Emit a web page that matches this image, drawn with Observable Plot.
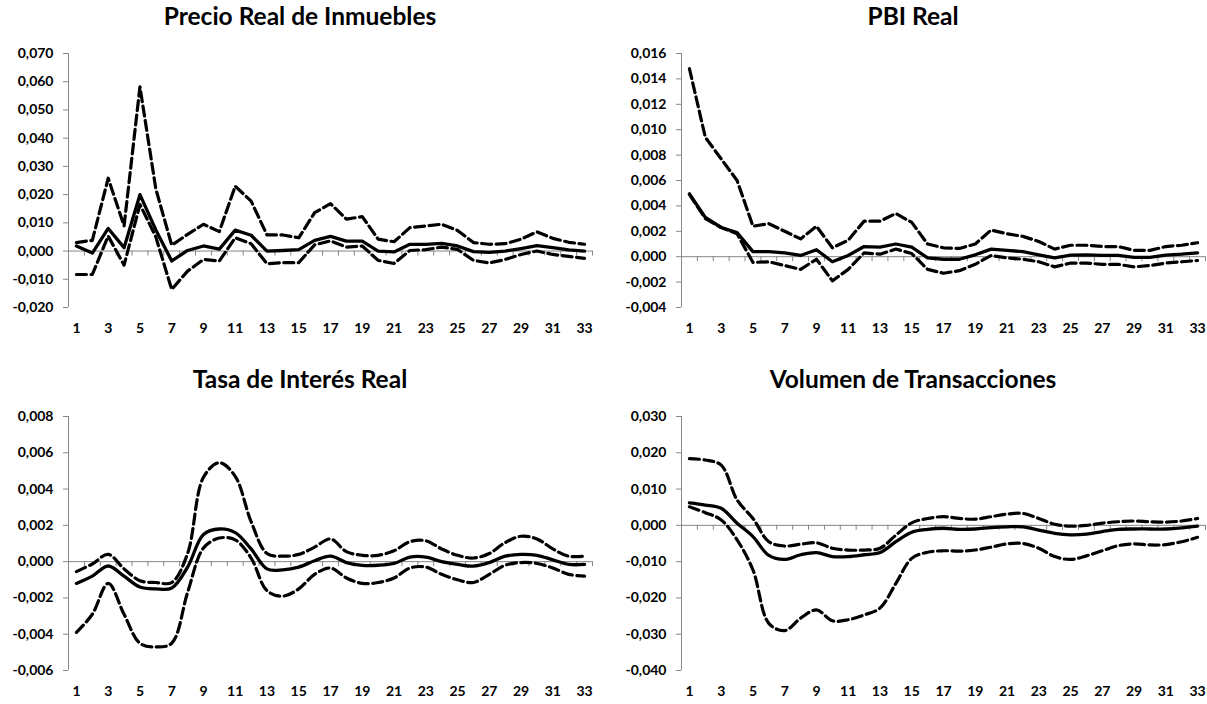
<!DOCTYPE html>
<html><head><meta charset="utf-8">
<script src="https://cdn.jsdelivr.net/npm/d3@7"></script>
<script src="https://cdn.jsdelivr.net/npm/@observablehq/plot@0.6"></script>
<style>
html,body{margin:0;padding:0;background:#fff;overflow:hidden}
#root{position:relative;width:1207px;height:704px;overflow:hidden}
.panel{position:absolute;width:600px;height:345px}
.title{position:absolute;left:0;top:4px;width:600px;text-align:center;font:bold 24.5px/24px Lato, sans-serif;color:#000;white-space:nowrap}
.panel svg{position:absolute;left:0;top:30px}
</style></head><body><div id="root"></div>
<script>
const periods = [1,2,3,4,5,6,7,8,9,10,11,12,13,14,15,16,17,18,19,20,21,22,23,24,25,26,27,28,29,30,31,32,33];
const xTickLabels = [1,3,5,7,9,11,13,15,17,19,21,23,25,27,29,31,33];

// Precio Real de Inmuebles
const precioMid = [0.0018,-0.0007,0.0080,0.0012,0.0200,0.0075,-0.0035,0.0002,0.0018,0.0007,0.0074,0.0056,0.0000,0.0002,0.0005,0.0038,0.0052,0.0035,0.0035,0.0000,-0.0003,0.0024,0.0024,0.0027,0.0018,-0.0002,-0.0005,0.0000,0.0009,0.0019,0.0012,0.0004,0.0000];
const precioUp = [0.0030,0.0038,0.0258,0.0089,0.0582,0.0220,0.0021,0.0059,0.0095,0.0069,0.0230,0.0177,0.0057,0.0057,0.0047,0.0136,0.0168,0.0113,0.0122,0.0042,0.0033,0.0083,0.0089,0.0095,0.0073,0.0030,0.0024,0.0026,0.0042,0.0068,0.0045,0.0031,0.0024];
const precioLow = [-0.0083,-0.0083,0.0053,-0.0050,0.0165,0.0050,-0.0136,-0.0071,-0.0030,-0.0035,0.0047,0.0026,-0.0045,-0.0041,-0.0041,0.0022,0.0036,0.0014,0.0018,-0.0033,-0.0044,0.0002,0.0005,0.0014,0.0006,-0.0033,-0.0042,-0.0030,-0.0012,0.0000,-0.0012,-0.0019,-0.0026];
const precioTicks = [-0.02,-0.01,0,0.01,0.02,0.03,0.04,0.05,0.06,0.07];

// PBI Real
const pbiMid = [0.00495,0.0031,0.0023,0.0019,0.0004,0.0004,0.0003,0.0001,0.00055,-0.0004,0.0001,0.0008,0.00075,0.0010,0.00075,-0.0001,-0.0002,-0.0002,0.00015,0.0006,0.0005,0.0004,0.00015,-0.0001,0.00013,0.00015,0.0001,0.0001,-0.00005,-0.00005,0.00013,0.0002,0.0003];
const pbiUp = [0.0148,0.0094,0.0077,0.0060,0.0024,0.0026,0.0020,0.0014,0.0024,0.0007,0.0013,0.0028,0.0028,0.0034,0.0027,0.0010,0.0007,0.00065,0.0010,0.0021,0.0018,0.0016,0.0012,0.0006,0.0009,0.0009,0.0008,0.0008,0.0005,0.0005,0.0008,0.0009,0.0011];
const pbiLow = [0.0049,0.0030,0.0023,0.0018,-0.00045,-0.0004,-0.0007,-0.0010,-0.0002,-0.0019,-0.0010,0.0003,0.0002,0.0006,0.00025,-0.0010,-0.0013,-0.0011,-0.0006,0.0001,-0.0001,-0.0002,-0.0004,-0.0008,-0.0005,-0.0005,-0.0006,-0.0006,-0.0008,-0.0007,-0.0005,-0.0004,-0.0003];
const pbiTicks = [-0.004,-0.002,0,0.002,0.004,0.006,0.008,0.010,0.012,0.014,0.016];

// Tasa de Interés Real
const tasaMid = [-0.0012,-0.0008,-0.00024,-0.0008,-0.0014,-0.0015,-0.00145,-0.0003,0.0015,0.0018,0.0016,0.0007,-0.0004,-0.00045,-0.0003,0.00005,0.0003,-0.00005,-0.0002,-0.0002,-0.0001,0.00025,0.00025,0.0000,-0.00015,-0.00025,-0.00005,0.0003,0.0004,0.00035,0.0001,-0.00015,-0.00015];
const tasaUp = [-0.00055,-0.00013,0.0004,-0.0004,-0.00105,-0.00115,-0.00115,0.00045,0.00465,0.00545,0.0047,0.0022,0.00045,0.0003,0.0004,0.0008,0.00125,0.00055,0.00035,0.00035,0.0006,0.0011,0.00115,0.0007,0.00035,0.0002,0.00045,0.00105,0.0014,0.00125,0.0007,0.0003,0.0003];
const tasaLow = [-0.0039,-0.0029,-0.0012,-0.0029,-0.0045,-0.0047,-0.0045,-0.0017,0.00075,0.0013,0.0012,0.0002,-0.0016,-0.0019,-0.0015,-0.0007,-0.00035,-0.0009,-0.0012,-0.00115,-0.0009,-0.00035,-0.0003,-0.0007,-0.0010,-0.00115,-0.0007,-0.0002,-0.00005,-0.0001,-0.00035,-0.0007,-0.0008];
const tasaTicks = [-0.006,-0.004,-0.002,0,0.002,0.004,0.006,0.008];

// Volumen de Transacciones
const volMid = [0.0062,0.0056,0.0047,0.0006,-0.0031,-0.0083,-0.0094,-0.0081,-0.0075,-0.0086,-0.0086,-0.0081,-0.0075,-0.0045,-0.0019,-0.0011,-0.0008,-0.0011,-0.0010,-0.0006,-0.0004,-0.0004,-0.0013,-0.0022,-0.0026,-0.0024,-0.0017,-0.0011,-0.0010,-0.0010,-0.0010,-0.0007,-0.0002];
const volUp = [0.0184,0.0180,0.0166,0.0070,0.0019,-0.0045,-0.0057,-0.0052,-0.0048,-0.0063,-0.0068,-0.0068,-0.0063,-0.0027,0.0007,0.0019,0.0024,0.0019,0.0017,0.0024,0.0031,0.0033,0.0019,0.0003,-0.0002,0.0000,0.0006,0.0010,0.0012,0.0010,0.0009,0.0012,0.0019];
const volLow = [0.0051,0.0035,0.0015,-0.0040,-0.0123,-0.0270,-0.0290,-0.0256,-0.0233,-0.0263,-0.0260,-0.0247,-0.0228,-0.0160,-0.0091,-0.0074,-0.0070,-0.0071,-0.0068,-0.0060,-0.0051,-0.0050,-0.0063,-0.0086,-0.0094,-0.0084,-0.0070,-0.0056,-0.0051,-0.0054,-0.0053,-0.0045,-0.0033];
const volTicks = [-0.04,-0.03,-0.02,-0.01,0,0.01,0.02,0.03];

const titles = ["Precio Real de Inmuebles","PBI Real","Tasa de Interés Real","Volumen de Transacciones"];

const locale = d3.formatLocale({decimal:",", thousands:".", grouping:[3], currency:["",""], minus:"-"});
const fmt = locale.format(".3f");
const gray = "#868686";

function panel(title, left, top, mid, up, low, yTicks, curve) {
  const ymin = yTicks[0], ymax = yTicks[yTicks.length - 1];
  const rows = arr => periods.map((p, i) => ({x: p, y: arr[i]}));
  const bounds = periods.map(p => p - 0.5).concat([periods[periods.length - 1] + 0.5]);
  const tickLen = (ymax - ymin) * 5 / 254;
  const div = document.createElement("div");
  div.className = "panel";
  div.style.left = left + "px";
  div.style.top = top + "px";
  const t = document.createElement("div");
  t.className = "title";
  t.textContent = title;
  div.appendChild(t);
  const dashed = {x: "x", y: "y", curve, stroke: "#000", strokeWidth: 3.2, strokeDasharray: "10,4.5", strokeLinejoin: "round"};
  const chart = Plot.plot({
    width: 600, height: 310,
    marginLeft: 68, marginRight: 8, marginTop: 23, marginBottom: 33,
    x: {domain: [0.5, 33.5], label: null},
    y: {domain: [ymin, ymax], label: null},
    style: {fontFamily: "Lato, sans-serif", fontSize: "14px", fontWeight: "bold", color: "#000", background: "transparent", overflow: "visible"},
    marks: [
      Plot.ruleX([0.5], {stroke: gray, strokeWidth: 1}),
      Plot.ruleY([0], {stroke: gray, strokeWidth: 1}),
      Plot.ruleX(bounds, {x: d => d, y1: 0, y2: -tickLen, stroke: gray, strokeWidth: 1}),
      Plot.axisY({ticks: yTicks, tickSize: 5, tickFormat: () => "", stroke: gray, label: null}),
      Plot.axisY({ticks: yTicks, tickSize: 0, tickPadding: 15, tickFormat: fmt, fill: "#000", fontSize: 14, fontWeight: "bold", label: null}),
      Plot.axisX({ticks: xTickLabels, tickSize: 0, tickPadding: 16, tickFormat: d => String(d), fill: "#000", fontSize: 14, fontWeight: "bold", label: null}),
      Plot.line(rows(low), dashed),
      Plot.line(rows(up), dashed),
      Plot.line(rows(mid), {x: "x", y: "y", curve, stroke: "#000", strokeWidth: 3.3, strokeLinejoin: "round"})
    ]
  });
  div.appendChild(chart);
  document.getElementById("root").appendChild(div);
}

panel(titles[0], 0, 0, precioMid, precioUp, precioLow, precioTicks, "linear");
panel(titles[1], 613, 0, pbiMid, pbiUp, pbiLow, pbiTicks, "linear");
panel(titles[2], 0, 363, tasaMid, tasaUp, tasaLow, tasaTicks, "catmull-rom");
panel(titles[3], 613, 363, volMid, volUp, volLow, volTicks, "catmull-rom");
</script></body></html>
